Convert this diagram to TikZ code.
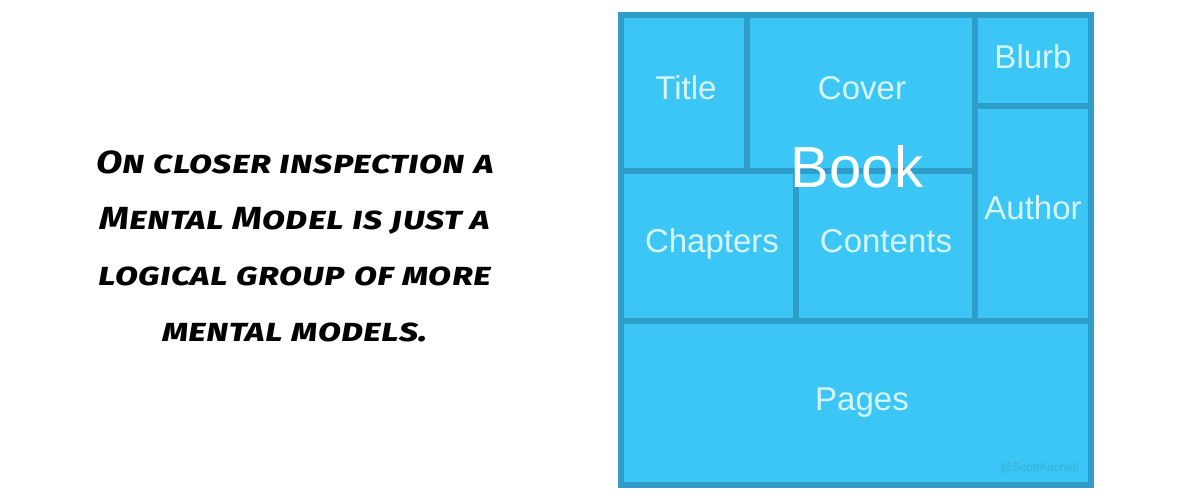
\documentclass[tikz,border=0pt]{standalone}
\usepackage{fontspec}
\setmainfont{Liberation Sans}
\newfontfamily\handfont{Fira Sans}[Letters=SmallCaps,FakeStretch=1.2]
\usepackage{tikz}

\definecolor{cellfill}{HTML}{3CC6F5}
\definecolor{cellline}{HTML}{2E9EC8}
\definecolor{celltext}{HTML}{D6F5FC}
\definecolor{marktext}{HTML}{34B0DD}

\begin{document}
\begin{tikzpicture}[x=1pt,y=-1pt,
		cell/.style={draw=cellline,fill=cellfill,line width=6pt},
		lbl/.style={anchor=base,text=celltext,font=\fontsize{33}{33}\selectfont},
		big/.style={anchor=base,text=white,font=\fontsize{58}{58}\selectfont}]
		\useasboundingbox (0,0) rectangle (1200,500);
		% left caption
		\node[align=center,font=\handfont\bfseries\itshape\fontsize{32}{56}\selectfont] (caption) at (295,246)
			{On closer inspection a\\Mental Model is just a\\logical group of more\\mental models.};
		% the book and its parts
		\draw[cell] (621,15) rectangle (1091,485);
		\draw[cell] (621,15) rectangle (747,171);
		\draw[cell] (747,15) rectangle (975,171);
		\draw[cell] (975,15) rectangle (1091,106);
		\draw[cell] (621,171) rectangle (796,321);
		\draw[cell] (796,171) rectangle (975,321);
		\draw[cell] (975,106) rectangle (1091,321);
		\draw[cell] (621,321) rectangle (1091,485);
		\node[lbl] (title) at (686,100) {Title};
		\node[lbl] (cover) at (862,100) {Cover};
		\node[lbl] (blurb) at (1033,69) {Blurb};
		\node[lbl] (chapters) at (712,252) {Chapters};
		\node[lbl] (contents) at (886,252) {Contents};
		\node[lbl] (author) at (1033,219) {Author};
		\node[lbl] (pages) at (862,410) {Pages};
		\node[big] (book) at (857,188) {Book};
		\node[anchor=base east,text=marktext,font=\fontsize{12}{12}\selectfont] (mark) at (1082,471) {@ScottKitchell};
	\end{tikzpicture}
\end{document}
